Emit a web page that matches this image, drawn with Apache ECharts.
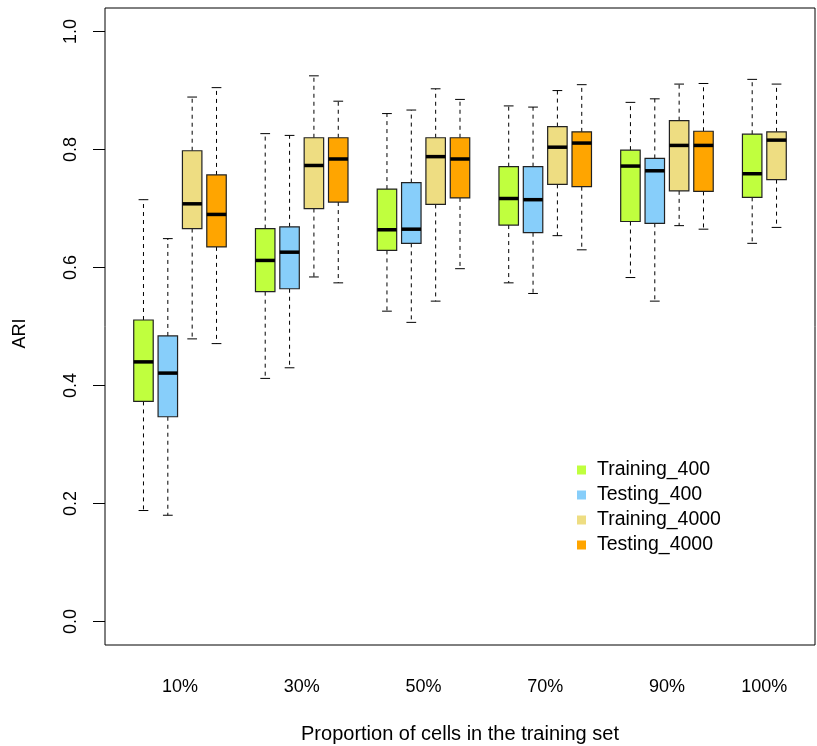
<!DOCTYPE html>
<html>
<head>
<meta charset="utf-8">
<script src="https://cdn.jsdelivr.net/npm/echarts@6/dist/echarts.min.js"></script>
<style>
  html, body { margin: 0; padding: 0; background: #fff; }
  #chart { width: 817px; height: 746px; }
</style>
</head>
<body>
<div id="chart"></div>
<script>
// Proportion of cells used for training
const categories = ['10%', '30%', '50%', '70%', '90%', '100%'];

// Box statistics per category: [lower whisker, Q1, median, Q3, upper whisker]
const training400 = [
  [0.188, 0.373, 0.440, 0.511, 0.715],
  [0.412, 0.559, 0.612, 0.666, 0.827],
  [0.526, 0.629, 0.664, 0.733, 0.861],
  [0.574, 0.672, 0.717, 0.771, 0.874],
  [0.583, 0.678, 0.772, 0.799, 0.880],
  [0.641, 0.719, 0.759, 0.826, 0.919]
];
const testing400 = [
  [0.180, 0.347, 0.421, 0.484, 0.649],
  [0.430, 0.564, 0.626, 0.669, 0.824],
  [0.507, 0.641, 0.665, 0.744, 0.867],
  [0.556, 0.659, 0.715, 0.771, 0.872],
  [0.543, 0.675, 0.764, 0.785, 0.886],
  null
];
const training4000 = [
  [0.479, 0.666, 0.708, 0.798, 0.889],
  [0.584, 0.700, 0.773, 0.820, 0.925],
  [0.543, 0.707, 0.788, 0.820, 0.903],
  [0.654, 0.741, 0.804, 0.839, 0.900],
  [0.671, 0.730, 0.807, 0.849, 0.911],
  [0.668, 0.749, 0.816, 0.830, 0.911]
];
const testing4000 = [
  [0.471, 0.635, 0.690, 0.757, 0.905],
  [0.574, 0.711, 0.784, 0.820, 0.882],
  [0.598, 0.718, 0.784, 0.820, 0.885],
  [0.630, 0.737, 0.811, 0.830, 0.910],
  [0.665, 0.729, 0.807, 0.831, 0.912],
  null
];

const seriesNames = ['Training_400', 'Testing_400', 'Training_4000', 'Testing_4000'];
const seriesData = [training400, testing400, training4000, testing4000];
const seriesColors = ['#C0FF3E', '#87CEFA', '#EEDD82', '#FFA500'];

// y tick labels
const yTicks = [0, 0.2, 0.4, 0.6, 0.8, 1.0];

// Boxes are packed side by side within each category, with a gap of
// one empty slot between categories.
const GROUP_STRIDE = 5;
const slotItems = seriesNames.map(() => []);
const groupCenters = [];
let lastSlot = 0;
categories.forEach((cat, g) => {
  let k = 0;
  const slots = [];
  seriesData.forEach((arr, s) => {
    const d = arr[g];
    if (!d) return;
    const slot = g * GROUP_STRIDE + k;
    slotItems[s].push([slot].concat(d));
    slots.push(slot);
    lastSlot = Math.max(lastSlot, slot);
    k++;
  });
  groupCenters.push(slots.reduce((a, b) => a + b, 0) / slots.length);
});
const nBoxes = lastSlot + 1;
const xPad = 0.04 * nBoxes;
const xMin = -0.5 - xPad;
const xMax = nBoxes - 0.5 + xPad;

const labelFont = 'Liberation Sans, Arial, Helvetica, sans-serif';

function renderBox(params, api) {
  const x = api.value(0);
  const lo = api.coord([x, api.value(1)]);
  const q1 = api.coord([x, api.value(2)]);
  const md = api.coord([x, api.value(3)]);
  const q3 = api.coord([x, api.value(4)]);
  const hi = api.coord([x, api.value(5)]);
  const w = api.size([0.8, 0])[0];
  const cx = lo[0];
  const half = w / 2;
  const capHalf = w / 4;
  const fill = api.visual('color');
  const dash = { stroke: '#000', lineWidth: 1, lineDash: [4, 4] };
  const solid = { stroke: '#000', lineWidth: 1 };
  return {
    type: 'group',
    children: [
      { type: 'line', shape: { x1: cx, y1: q3[1], x2: cx, y2: hi[1] }, style: dash },
      { type: 'line', shape: { x1: cx, y1: q1[1], x2: cx, y2: lo[1] }, style: dash },
      { type: 'line', shape: { x1: cx - capHalf, y1: hi[1], x2: cx + capHalf, y2: hi[1] }, style: solid },
      { type: 'line', shape: { x1: cx - capHalf, y1: lo[1], x2: cx + capHalf, y2: lo[1] }, style: solid },
      { type: 'rect', shape: { x: cx - half, y: q3[1], width: w, height: q1[1] - q3[1] },
        style: { fill: fill, stroke: '#222', lineWidth: 1.2 } },
      { type: 'line', shape: { x1: cx - half, y1: md[1], x2: cx + half, y2: md[1] },
        style: { stroke: '#000', lineWidth: 3.5 } }
    ]
  };
}

const chart = echarts.init(document.getElementById('chart'), null, { renderer: 'canvas' });

chart.setOption({
  backgroundColor: '#fff',
  animation: false,
  grid: {
    left: 105, right: 2, top: 8, bottom: 101,
    containLabel: false,
    outerBoundsMode: 'none',
    show: true, borderColor: '#000', borderWidth: 1, backgroundColor: 'transparent'
  },
  xAxis: {
    type: 'value',
    min: xMin,
    max: xMax,
    axisLine: { show: false, onZero: false },
    axisTick: { show: false },
    splitLine: { show: false },
    axisLabel: {
      customValues: groupCenters,
      formatter: (v) => {
        const i = groupCenters.findIndex(c => Math.abs(c - v) < 1e-6);
        return i >= 0 ? categories[i] : '';
      },
      margin: 33,
      color: '#000',
      fontSize: 18,
      fontFamily: labelFont
    },
    name: 'Proportion of cells in the training set',
    nameLocation: 'middle',
    nameGap: 79,
    nameTextStyle: { color: '#000', fontSize: 20, fontFamily: labelFont }
  },
  yAxis: {
    type: 'value',
    min: -0.04,
    max: 1.04,
    axisLine: { show: false, onZero: false },
    splitLine: { show: false },
    axisTick: {
      show: true,
      customValues: yTicks,
      length: 12,
      lineStyle: { color: '#000', width: 1 }
    },
    axisLabel: {
      customValues: yTicks,
      rotate: 90,
      formatter: (v) => v.toFixed(1),
      margin: 25,
      color: '#000',
      fontSize: 18,
      fontFamily: labelFont
    },
    name: 'ARI',
    nameLocation: 'middle',
    nameGap: 76,
    nameRotate: 90,
    nameTextStyle: { color: '#000', fontSize: 18, fontFamily: labelFont, padding: [0, 14, 0, 0] }
  },
  legend: {
    orient: 'vertical',
    left: 572,
    top: 455,
    icon: 'rect',
    itemWidth: 9,
    itemHeight: 9,
    itemGap: 5,
    itemStyle: { borderWidth: 0 },
    textStyle: { color: '#000', fontSize: 19.5, fontFamily: labelFont, lineHeight: 18, padding: [0, 0, 0, 6] },
    data: seriesNames
  },
  series: seriesNames.map((name, s) => ({
    name: name,
    type: 'custom',
    renderItem: renderBox,
    itemStyle: { color: seriesColors[s] },
    encode: { x: 0, y: [1, 2, 3, 4, 5] },
    data: slotItems[s]
  }))
});
</script>
</body>
</html>
